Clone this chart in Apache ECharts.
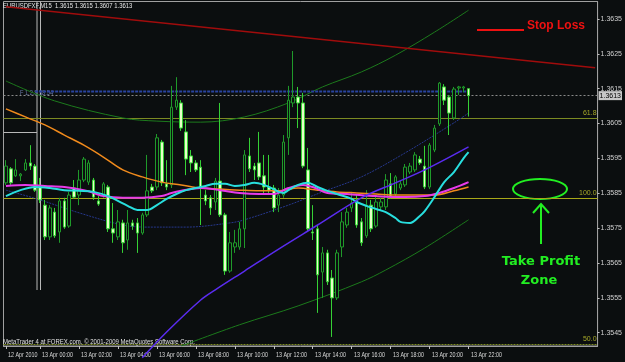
<!DOCTYPE html>
<html><head><meta charset="utf-8">
<script src="https://cdn.jsdelivr.net/npm/echarts@6/dist/echarts.min.js"></script>
<style>html,body{margin:0;padding:0;background:#0b0e0f;}#c{width:625px;height:362px;}</style>
</head><body><div id="c"></div>
<script>
// ---- data ----
const symbolTitle = 'EURUSDFXF,M15  1.3615 1.3615 1.3607 1.3613';
const tickIdx  = [0, 7, 15, 23, 31, 39, 47, 55, 63, 71, 79, 87, 95];
const tickText = ['12 Apr 2010','13 Apr 00:00','13 Apr 02:00','13 Apr 04:00','13 Apr 06:00','13 Apr 08:00','13 Apr 10:00','13 Apr 12:00','13 Apr 14:00','13 Apr 16:00','13 Apr 18:00','13 Apr 20:00','13 Apr 22:00'];
const priceTicks = [1.3545,1.3555,1.3565,1.3575,1.3585,1.3595,1.3605,1.3615,1.3625,1.3635];

const opens = [
1.35880,1.35920,1.35900,1.35900,1.35917,1.35937,1.35928,1.35868,1.35816,1.35725,
1.35796,1.35739,1.35828,1.35756,1.35865,1.35845,1.35888,1.35882,1.35888,1.35828,
1.35845,1.35868,1.35748,1.35725,1.35765,1.35716,1.35765,1.35765,1.35736,1.35788,
1.35868,1.35868,1.35997,1.35877,1.35874,1.36097,1.36109,1.36026,1.35957,1.35937,
1.35925,1.35845,1.35837,1.35825,1.35885,1.35788,1.35627,1.35696,1.35696,1.35748,
1.35957,1.35928,1.35937,1.35900,1.35868,1.35865,1.35816,1.35845,1.36009,1.36109,
1.36126,1.36109,1.35917,1.35739,1.35748,1.35624,1.35679,1.35607,1.35550,1.35696,
1.35759,1.35808,1.35831,1.35768,1.35728,1.35816,1.35756,1.35811,1.35811,1.35877,
1.35848,1.35865,1.35874,1.35911,1.35917,1.35948,1.35928,1.35868,1.35974,1.36049,
1.36155,1.36126,1.36066,1.36152,1.36152,1.36150];
const closes = [
1.35928,1.35880,1.35917,1.35905,1.35937,1.35928,1.35859,1.35831,1.35725,1.35808,
1.35728,1.35828,1.35753,1.35845,1.35839,1.35888,1.35948,1.35937,1.35839,1.35819,
1.35877,1.35748,1.35736,1.35768,1.35708,1.35765,1.35756,1.35736,1.35788,1.35857,
1.35857,1.36009,1.35880,1.35868,1.36097,1.36117,1.36037,1.35948,1.35937,1.35917,
1.35865,1.35828,1.35808,1.35885,1.35788,1.35627,1.35708,1.35708,1.35748,1.35960,
1.35920,1.35917,1.35897,1.35868,1.35859,1.35808,1.35845,1.35997,1.36117,1.36126,
1.36109,1.35928,1.35748,1.35736,1.35616,1.35679,1.35596,1.35550,1.35679,1.35768,
1.35796,1.35822,1.35759,1.35708,1.35816,1.35748,1.35825,1.35825,1.35888,1.35839,
1.35897,1.35877,1.35925,1.35928,1.35960,1.35937,1.35868,1.35988,1.36037,1.36166,
1.36117,1.36080,1.36149,1.36155,1.36155,1.36130];
const lows = [
1.35874,1.35874,1.35897,1.35885,1.35914,1.35917,1.35854,1.35822,1.35716,1.35716,
1.35722,1.35708,1.35748,1.35751,1.35834,1.35816,1.35882,1.35874,1.35831,1.35814,
1.35837,1.35739,1.35708,1.35716,1.35679,1.35688,1.35745,1.35679,1.35731,1.35782,
1.35851,1.35859,1.35871,1.35859,1.35865,1.36089,1.36029,1.35902,1.35911,1.35911,
1.35759,1.35816,1.35788,1.35802,1.35782,1.35616,1.35622,1.35679,1.35688,1.35693,
1.35911,1.35888,1.35888,1.35845,1.35851,1.35796,1.35796,1.35837,1.35960,1.36097,
1.36037,1.35922,1.35739,1.35716,1.35507,1.35550,1.35587,1.35438,1.35544,1.35667,
1.35751,1.35796,1.35751,1.35699,1.35722,1.35739,1.35751,1.35802,1.35802,1.35834,
1.35842,1.35859,1.35868,1.35905,1.35911,1.35931,1.35862,1.35862,1.35968,1.36043,
1.36103,1.36017,1.36060,1.36132,1.36140,1.36070];
const highs = [
1.35945,1.35925,1.35948,1.35908,1.35948,1.35988,1.35934,1.35894,1.35831,1.35816,
1.35808,1.35837,1.35837,1.35854,1.35888,1.35917,1.35954,1.35945,1.35894,1.35842,
1.35882,1.35874,1.35822,1.35802,1.35774,1.35802,1.35774,1.35779,1.35794,1.35960,
1.35877,1.36020,1.36003,1.35945,1.36158,1.36183,1.36117,1.36060,1.35974,1.35945,
1.35945,1.35859,1.35845,1.35894,1.36109,1.35794,1.35739,1.35745,1.35768,1.35974,
1.36009,1.35937,1.36026,1.35960,1.35960,1.35874,1.35865,1.36017,1.36158,1.36258,
1.36155,1.36138,1.35980,1.35816,1.35759,1.35696,1.35688,1.35630,1.35688,1.35796,
1.35808,1.35854,1.35845,1.35779,1.35859,1.35831,1.35845,1.35837,1.35905,1.35908,
1.35902,1.35885,1.35934,1.35937,1.35968,1.35957,1.35986,1.35994,1.36046,1.36169,
1.36163,1.36132,1.36155,1.36158,1.36158,1.36150];

// indicator lines: [bar index, price]
const maOrange = [[0,1.36092],[4,1.36069],[8,1.36046],[12,1.36017],[16,1.35988],[20,1.35954],[24,1.35917],[28,1.35897],[32,1.35882],[36,1.35874],[40,1.35865],[44,1.35862],[48,1.35859],[52,1.35857],[56,1.35857],[60,1.35865],[64,1.35859],[68,1.35854],[72,1.35851],[76,1.35848],[80,1.35845],[84,1.35845],[88,1.35845],[92,1.35857],[95,1.35868]];
const maMagenta = [[0,1.35871],[4,1.35874],[8,1.35871],[12,1.35868],[16,1.35859],[18,1.35851],[20,1.35842],[24,1.35837],[28,1.35837],[32,1.35842],[34,1.35851],[36,1.35857],[40,1.35865],[44,1.35859],[48,1.35851],[52,1.35848],[55,1.35848],[58,1.35865],[61,1.35874],[63,1.35868],[66,1.35851],[70,1.35848],[76,1.35842],[82,1.35839],[86,1.35842],[89,1.35851],[92,1.35865],[95,1.35882]];
const maCyan = [[0,1.35842],[3,1.35859],[6,1.35868],[9,1.35865],[12,1.35859],[15,1.35857],[18,1.35854],[21,1.35842],[23,1.35828],[25,1.35814],[27,1.35802],[29,1.35802],[31,1.35816],[33,1.35834],[35,1.35848],[37,1.35859],[39,1.35865],[41,1.35871],[43,1.35877],[45,1.35877],[47,1.35871],[49,1.35874],[51,1.35880],[53,1.35874],[55,1.35862],[56,1.35854],[57,1.35851],[58,1.35859],[60,1.35874],[62,1.35880],[64,1.35868],[66,1.35857],[68,1.35848],[71,1.35834],[72,1.35825],[74,1.35814],[76,1.35805],[78,1.35796],[80,1.35779],[81,1.35768],[83,1.35765],[85,1.35785],[86,1.35799],[88,1.35839],[90,1.35882],[92,1.35911],[94,1.35951],[95,1.35968]];
const maPurple = [[28,1.35378],[33,1.35452],[40,1.35544],[43,1.35573],[49,1.35627],[56,1.35690],[64,1.35759],[73,1.35837],[80,1.35880],[86,1.35917],[95,1.35983]];
const chanMid = [[0,1.35859],[7,1.35831],[15,1.35794],[24,1.35759],[29,1.35753],[37,1.35753],[46,1.35765],[49,1.35774],[58,1.35816],[65,1.35854],[73,1.35897],[82,1.35966],[92,1.36052],[95,1.36080]];
const chanUp = [[0,1.36172],[10,1.36115],[24,1.36066],[31,1.36057],[40,1.36054],[49,1.36069],[58,1.36109],[65,1.36155],[73,1.36198],[80,1.36246],[88,1.36312],[95,1.36375]];
const chanLow = [[36,1.35412],[48,1.35473],[60,1.35527],[73,1.35596],[78,1.35630],[86,1.35693],[95,1.35774]];
const stopTrend = [[0,1.36385],[121,1.36210]];
const blueLevel = [[6,1.36142],[95,1.36142]];
const fibLevels = [{v:1.36066,t:'61.8'},{v:1.35837,t:'100.0'},{v:1.35418,t:'50.0'}];
const bidPrice = 1.3613;

const NCAT = 122;
const cats = [];
for (let i = 0; i < NCAT; i++) cats.push('b' + i);
const ohlc = opens.map((o, i) => [o, closes[i], lows[i], highs[i]]);

const FONT = "'Liberation Sans',Arial,sans-serif";
const chart = echarts.init(document.getElementById('c'));
const lineS = (name, data, color, width, extra) => Object.assign({
  type:'line', name, data, symbol:'none', smooth:0.35, z:4, silent:true,
  lineStyle:{color, width}
}, extra || {});

chart.setOption({
  backgroundColor:'#0b0e0f',
  animation:false,
  grid:{left:3.5, right:22.6, top:1.5, bottom:16, show:true, borderColor:'#a0a0a0', borderWidth:1, backgroundColor:'transparent'},
  xAxis:{type:'category', data:cats, boundaryGap:true,
    axisLine:{show:true, lineStyle:{color:'#a0a0a0'}},
    axisTick:{show:true, alignWithLabel:true, length:3, interval:(i)=>tickIdx.includes(i), lineStyle:{color:'#c0c0c0'}},
    axisLabel:{show:false},
    splitLine:{show:false}},
  yAxis:{type:'value', position:'right', min:1.35412, max:1.36400, scale:true,
    axisLine:{show:true, lineStyle:{color:'#a0a0a0'}},
    axisTick:{show:true, length:2, customValues:priceTicks, lineStyle:{color:'#c0c0c0'}},
    axisLabel:{customValues:priceTicks, formatter:(v)=>v.toFixed(4), color:'#d0d0d0', fontSize:7, margin:3, fontFamily:FONT},
    splitLine:{show:false}},
  series:[
    lineS('chanUp', chanUp, '#1c7a1c', 1, {z:1}),
    lineS('chanLow', chanLow, '#1c7a1c', 1, {z:1}),
    lineS('chanMid', chanMid, '#26378c', 1, {z:1, lineStyle:{color:'#26378c', width:1, type:[2,1]}}),
    lineS('stop', stopTrend, '#a00c0c', 1.5, {smooth:false, z:1}),
    lineS('blue', blueLevel, '#2a44a0', 2, {smooth:false, z:1, lineStyle:{color:'#2a44a0', width:2, type:[3,1]},
      markLine:{silent:true, symbol:'none', precision:5, z:1, data:[
        ...fibLevels.map(f=>({yAxis:f.v, lineStyle:{color: f.t==='100.0' ? '#a8a818' : '#7c8a22', width:1, type: f.t==='50.0' ? [2,1] : 'solid'},
           label:{show:true, position:'insideEndTop', formatter:f.t, color:'#a6a828', fontSize:7, distance:[1,1], fontFamily:FONT}})),
        {yAxis:bidPrice, lineStyle:{color:'#8a8a8a', width:1, type:[2,2]},
          label:{show:true, position:'end', formatter:bidPrice.toFixed(4), color:'#000', backgroundColor:'#c8c8c8', padding:[1,1], fontSize:7, distance:1, fontFamily:FONT}}
      ]}}),
    {type:'candlestick', data:ohlc, barWidth:3, z:2, silent:true,
      itemStyle:{color:'#0b0e0f', color0:'#e6ffc8', borderColor:'#1f9a2a', borderColor0:'#35d035', borderColorDoji:'#1f9a2a', borderWidth:1}},
    lineS('orange', maOrange, '#f08a1c', 1.5),
    lineS('magenta', maMagenta, '#e83ae8', 2),
    lineS('cyan', maCyan, '#28dede', 2),
    lineS('purple', maPurple, '#5a2cf0', 1.5, {clip:false})
  ]
});

// texts positioned from the library's scales
const gfx = [
  {type:'text', x:3, y:2, scaleX:0.74, style:{text:symbolTitle, fill:'#e8e8e8', font:"8px "+FONT}, silent:true},
  {type:'text', x:3, y:338, scaleX:0.8, style:{text:'MetaTrader 4 at FOREX.com, \u00a9 2001-2009 MetaQuotes Software Corp.', fill:'#e0e0e0', font:"7.5px "+FONT}, silent:true},
  {type:'line', shape:{x1:37,y1:1.5,x2:37,y2:290}, style:{stroke:'#b8b8b8', lineWidth:1}, silent:true},
  {type:'line', shape:{x1:40.5,y1:1.5,x2:40.5,y2:290}, style:{stroke:'#b8b8b8', lineWidth:1}, silent:true},
  {type:'line', shape:{x1:3.5,y1:132.5,x2:37,y2:132.5}, style:{stroke:'#b8b8b8', lineWidth:1}, silent:true},
  {type:'text', x:20, y:90, scaleX:0.8, style:{text:'F 1.2.8 38.54', fill:'#6a7aa8', font:"7px "+FONT}, silent:true},
  {type:'line', shape:{x1:477,y1:30,x2:524,y2:30}, style:{stroke:'#ee1111', lineWidth:2}, silent:true},
  {type:'text', x:527, y:20, style:{text:'Stop Loss', fill:'#ee1111', font:"bold 12px 'Liberation Sans',Arial,sans-serif"}, silent:true},
  {type:'ellipse', shape:{cx:540, cy:189, rx:27, ry:10}, style:{stroke:'#22ee22', lineWidth:2, fill:null}, silent:true},
  {type:'polyline', shape:{points:[[541,244],[541,205]]}, style:{stroke:'#22ee22', lineWidth:2}, silent:true},
  {type:'polyline', shape:{points:[[533,213],[541,204],[549,213]]}, style:{stroke:'#22ee22', lineWidth:2, fill:null}, silent:true},
  {type:'text', x:541, y:255, style:{text:'Take Profit', fill:'#22ee22', align:'center', font:"bold 13px 'DejaVu Sans',sans-serif"}, silent:true},
  {type:'text', x:539, y:274, style:{text:'Zone', fill:'#22ee22', align:'center', font:"bold 13px 'DejaVu Sans',sans-serif"}, silent:true}
];
tickIdx.forEach((idx, k) => {
  const px = chart.convertToPixel({xAxisIndex:0}, idx);
  gfx.push({type:'text', x:Math.round(px)+2, y:351, scaleX:0.72, style:{text:tickText[k], fill:'#d8d8d8', font:"7.5px "+FONT}, silent:true});
});
chart.setOption({graphic:gfx});
</script></body></html>
